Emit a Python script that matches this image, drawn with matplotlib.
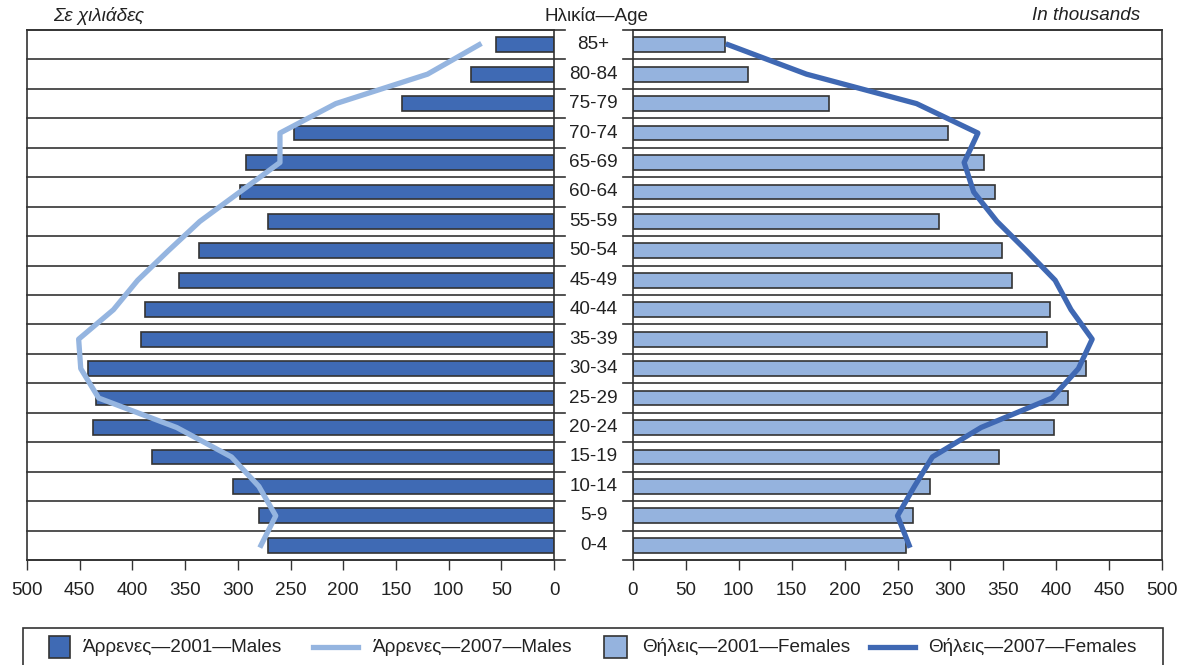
#----------------------------------------------------------------------
# import libraries
#----------------------------------------------------------------------

import matplotlib
matplotlib.use("Agg")
import matplotlib.pyplot as plt
from matplotlib.patches import Rectangle
from matplotlib.lines import Line2D
from matplotlib.transforms import blended_transform_factory

plt.rcParams['font.family'] = ['Liberation Sans', 'DejaVu Sans']

#-----------------------------------------------------------------------
# Data: population by age group, in thousands (bottom to top)
#-----------------------------------------------------------------------

age_groups = ['0-4', '5-9', '10-14', '15-19', '20-24', '25-29', '30-34', '35-39',
              '40-44', '45-49', '50-54', '55-59', '60-64', '65-69', '70-74',
              '75-79', '80-84', '85+']

males_2001 = [271, 280, 305, 381, 437, 435, 442, 392, 388, 356, 337, 271,
              298, 292, 247, 144, 79, 55]
males_2007 = [278, 264, 280, 306, 358, 432, 449, 451, 418, 395, 366, 336,
              298, 260, 260, 207, 120, 71]

females_2001 = [258, 265, 281, 346, 398, 411, 428, 391, 394, 358, 349, 289,
                342, 332, 298, 185, 109, 87]
females_2007 = [261, 250, 266, 283, 329, 396, 421, 434, 414, 399, 372, 344,
                322, 313, 326, 268, 164, 90]

x_ticks = list(range(0, 501, 50))

#-----------------------------------------------------------------------
# colours
#-----------------------------------------------------------------------

dark_blue = '#3F6AB4'
light_blue = '#95B3DE'
line_light = '#95B5E0'
line_dark = '#3F68B3'
edge = '#333333'
txt = '#222222'
fs = 13.6

W, H = 1186, 665
fig = plt.figure(figsize=(W / 100, H / 100), dpi=100)

axL = fig.add_axes([27 / W, 1 - 560 / H, (554 - 27) / W, 530 / H])
axR = fig.add_axes([633 / W, 1 - 560 / H, (1162 - 633) / W, 530 / H])

y = list(range(len(age_groups)))

# males (left, reversed axis)
axL.barh(y, males_2001, height=0.5, color=dark_blue, edgecolor=edge, linewidth=1.2, zorder=2)
axL.plot(males_2007, y, color=line_light, linewidth=3.8, zorder=3, clip_on=False)
axL.set_xlim(500, 0)

# females (right)
axR.barh(y, females_2001, height=0.5, color=light_blue, edgecolor=edge, linewidth=1.2, zorder=2)
axR.plot(females_2007, y, color=line_dark, linewidth=3.8, zorder=3, clip_on=False)
axR.set_xlim(0, 500)

for ax in (axL, axR):
    ax.set_ylim(-0.5, len(age_groups) - 0.5)
    ax.set_yticks([])
    ax.set_xticks(x_ticks)
    ax.tick_params(axis='x', direction='out', length=7, width=1, color=edge,
                   labelsize=fs, pad=9, labelcolor=txt)
    for s in ax.spines.values():
        s.set_color(edge)
        s.set_linewidth(1.2)

# row separator lines, running a little into the middle gap
for k in range(len(age_groups) + 1):
    axL.axhline(k - 0.5, 0, 1.021, color=edge, linewidth=1.2, clip_on=False, zorder=1)
    axR.axhline(k - 0.5, -0.018, 1, color=edge, linewidth=1.2, clip_on=False, zorder=1)

# age labels in the middle
trans = blended_transform_factory(axL.transAxes, axL.transData)
for i, lab in enumerate(age_groups):
    axL.text(1.075, i, lab, transform=trans, ha='center', va='center',
             fontsize=fs, color=txt)

# headers
fig.text(53 / W, 1 - 16 / H, 'Σε χιλιάδες', style='italic', ha='left', va='center',
         fontsize=fs, color=txt)
fig.text(596 / W, 1 - 16 / H, 'Ηλικία—Age', ha='center', va='center',
         fontsize=fs, color=txt)
fig.text(1140 / W, 1 - 16 / H, 'In thousands', style='italic', ha='right', va='center',
         fontsize=fs, color=txt)

#-----------------------------------------------------------------------
# legend (drawn by hand to match the boxed layout)
#-----------------------------------------------------------------------

fig.patches.append(Rectangle((23 / W, -0.02), (1163 - 23) / W, (H - 628) / H + 0.02,
                             transform=fig.transFigure, fill=False,
                             edgecolor=edge, linewidth=1.2))
ly = 1 - 647 / H
fig.patches.append(Rectangle((49 / W, 1 - 658 / H), 21 / W, 22 / H, transform=fig.transFigure,
                             facecolor=dark_blue, edgecolor=edge, linewidth=1.2))
fig.text(83 / W, ly, 'Άρρενες—2001—Males', va='center', fontsize=fs, color=txt)
fig.lines.append(Line2D([313 / W, 358 / W], [ly, ly], transform=fig.transFigure,
                        color=line_light, linewidth=3.8))
fig.text(373 / W, ly, 'Άρρενες—2007—Males', va='center', fontsize=fs, color=txt)
fig.patches.append(Rectangle((604 / W, 1 - 658 / H), 23 / W, 22 / H, transform=fig.transFigure,
                             facecolor=light_blue, edgecolor=edge, linewidth=1.2))
fig.text(642 / W, ly, 'Θήλεις—2001—Females', va='center', fontsize=fs, color=txt)
fig.lines.append(Line2D([870 / W, 915 / W], [ly, ly], transform=fig.transFigure,
                        color=line_dark, linewidth=3.8))
fig.text(928 / W, ly, 'Θήλεις—2007—Females', va='center', fontsize=fs, color=txt)

plt.savefig('out.png', dpi=100)
